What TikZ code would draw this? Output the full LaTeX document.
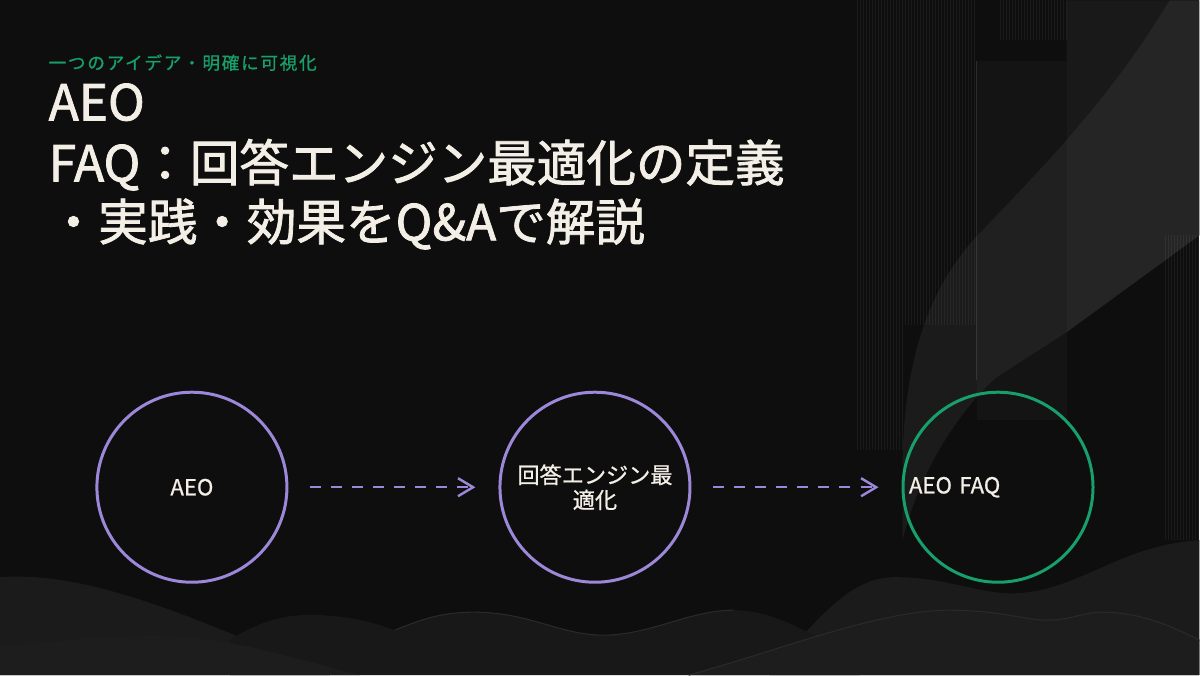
\documentclass[tikz,border=0pt]{standalone}
\usepackage{fontspec}
\setmainfont{Noto Sans CJK JP}
\usetikzlibrary{arrows.meta,positioning}

\definecolor{bgdark}{HTML}{0E0E0E}
\definecolor{panelgrey}{HTML}{191919}
\definecolor{panelmid}{HTML}{141414}
\definecolor{wavefar}{HTML}{1B1B1B}
\definecolor{wavemid}{HTML}{181818}
\definecolor{wavenear}{HTML}{1D1D1D}
\definecolor{waveedge}{HTML}{2A2A2A}
\definecolor{lavender}{HTML}{9D87D8}
\definecolor{mint}{HTML}{17A06B}
\definecolor{paper}{HTML}{F3EFE6}

\begin{document}
\begin{tikzpicture}[x=0.01cm,y=-0.01cm,node distance=2.1cm,
  >={Straight Barb[length=1.5mm,width=1.8mm]},
  stage/.style={circle,draw=lavender,line width=0.85pt,minimum size=1.9cm,
    inner sep=0pt,text width=1.78cm,align=center,text=paper,
    font=\fontsize{6.3}{7.1}\selectfont\addfontfeatures{FakeBold=0.9}},
  flow/.style={->,draw=lavender,line width=0.7pt,
    dash pattern=on 1.1mm off 1mm,shorten <=0.22cm,shorten >=0.23cm},
  headline/.style={anchor=base west,inner sep=0pt,text=paper,
    font=\fontsize{14.1}{16}\selectfont\addfontfeatures{FakeBold=1.6}},
  tagline/.style={anchor=base west,inner sep=0pt,text=mint,
    font=\fontsize{5}{6}\selectfont\addfontfeatures{LetterSpace=10,FakeBold=1}},
  stripe/.style={draw=white,opacity=0.05,line width=0.25pt},
  waveline/.style={draw=waveedge,line width=0.3pt}]

  % background
  \fill[bgdark] (0,0) rectangle (1200,675);
  \fill[panelgrey] (1067,0) -- (1200,0) -- (1200,235) -- (1067,332) -- cycle;
  \fill[panelmid] (977,61) rectangle (1067,420);
  \foreach \x in {858,861,...,975} \draw[stripe] (\x,0) -- (\x,325);
  \foreach \x in {858,861,...,905} \draw[stripe] (\x,325) -- (\x,450);
  \foreach \x in {1001,1004,...,1067} \draw[stripe] (\x,0) -- (\x,40);
  \foreach \x in {1166,1169,...,1200} \draw[stripe] (\x,235) -- (\x,540);
  \draw[draw=white,opacity=0.12,line width=0.4pt] (977,61) -- (977,380);
  \fill[white,opacity=0.055] (1170,0) .. controls (1110,100) and (1040,170) .. (980,233)
    .. controls (930,285) and (903,360) .. (903,470) -- (903,540)
    .. controls (920,470) and (960,410) .. (997,377) -- (1067,332)
    -- (1200,235) -- (1200,0) -- cycle;

  % hills
  \fill[wavefar] (0,577) .. controls (90,570) and (200,620) .. (330,675) -- (0,675) -- cycle;
  \fill[wavefar] (770,675) .. controls (830,600) and (860,577) .. (895,577)
    .. controls (950,577) and (980,595) .. (1018,593)
    .. controls (1080,590) and (1120,545) .. (1200,540) -- (1200,675) -- cycle;
  \fill[wavemid] (230,640) .. controls (260,620) and (290,613) .. (320,615)
    .. controls (360,617) and (380,625) .. (395,630)
    .. controls (420,620) and (440,612) .. (474,612)
    .. controls (530,612) and (560,635) .. (604,635)
    .. controls (650,635) and (690,610) .. (734,610)
    .. controls (780,610) and (820,640) .. (860,660) -- (860,675) -- (230,675) -- cycle;
  \draw[waveline] (395,630) .. controls (420,620) and (440,612) .. (474,612)
    .. controls (530,612) and (560,635) .. (604,635)
    .. controls (650,635) and (690,610) .. (734,610);
  \fill[wavenear] (0,647) .. controls (60,640) and (110,636) .. (155,636)
    .. controls (230,636) and (300,660) .. (360,675) -- (0,675) -- cycle;
  \fill[wavenear] (689,675) .. controls (780,650) and (880,610) .. (949,610)
    .. controls (1000,610) and (1025,620) .. (1048,620)
    .. controls (1070,620) and (1085,612) .. (1102,612)
    .. controls (1140,612) and (1170,625) .. (1200,640) -- (1200,675) -- cycle;
  \draw[waveline] (689,675) .. controls (780,650) and (880,610) .. (949,610)
    .. controls (1000,610) and (1025,620) .. (1048,620)
    .. controls (1070,620) and (1085,612) .. (1102,612)
    .. controls (1140,612) and (1170,625) .. (1200,640);

  % headings
  \node[tagline] (tag) at (48,69) {一つのアイデア・明確に可視化};
  \node[headline] (title1) at (48,120) {AEO};
  \node[headline] (title2) at (48,181) {FAQ：回答エンジン最適化の定義};
  \node[headline] (title3) at (48,240) {・実践・効果をQ\&Aで解説};

  % stages
  \node[stage] (aeo) at (192,487) {AEO};
  \node[stage] (engine) [right=of aeo] {回答エンジン最\\適化};
  \node[stage,draw=mint,align=left] (faq) [right=of engine] {AEO FAQ};

  \draw[flow] (aeo) -- (engine);
  \draw[flow] (engine) -- (faq);
\end{tikzpicture}
\end{document}
